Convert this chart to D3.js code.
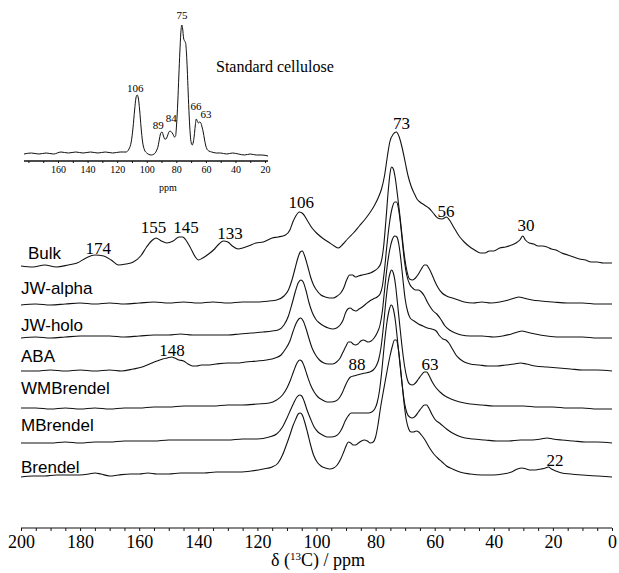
<!DOCTYPE html>
<html>
<head>
<meta charset="utf-8">
<script src="https://cdn.jsdelivr.net/npm/d3@7"></script>
<style>
  html, body { margin: 0; padding: 0; background: #fff; }
  svg { display: block; }
</style>
</head>
<body>
<svg id="chart" width="619" height="573"></svg>
<script>
// ---------------- DATA ----------------
const sampleNames = ["Bulk", "JW-alpha", "JW-holo", "ABA", "WMBrendel", "MBrendel", "Brendel"];
// vertical stacking offsets (a.u.)
const stackOffsets = [211, 172, 139, 106, 69, 34, 0];
// where the sample name sits above its trace (a.u.)
const nameHeights = [13, 17, 13, 15, 20, 18, 10];

// spectra: [ppm, intensity a.u.]
const bulk = [[200,0],[196,-1],[192,1],[188,-1],[184,1],[181,3],[178,8],[175,11],[172,10],[169.5,6],[167,1],[164.5,2],[162,4],[159.5,10],[157.5,19],[155.5,26],[154.3,28],[152.5,25],[150.7,23],[148.5,25],[146.5,29],[145.3,29],[144,25],[142.8,19],[141,9],[140,6],[138.5,8],[136.5,12],[134.5,17],[133,22],[131.5,25],[130,24],[128.5,20],[126.5,17],[125,18],[123,20],[120.5,23],[118,24],[115,28],[113,29],[110.5,31],[109,36],[108,44],[107,50],[105.8,54],[104.5,52],[103,45],[101.5,38],[100,33],[98,28],[96,24],[94,20],[92.6,18],[91,22],[89.5,27],[87.5,33],[85.5,40],[83.5,47],[82,53],[80.5,60],[79,69],[78,77],[77,90],[76,110],[75.2,124],[74,132],[73,134],[72,129],[71,118],[70,104],[69,90],[68,80],[67,73],[66,67],[65,64],[63.5,61],[62,58],[60.5,53],[59,48],[57.5,47],[56,49],[55,46],[54,41],[53,36],[51.5,29],[50,24],[48.5,20],[46.5,16],[44.5,13],[43,13],[41.5,15],[40,15],[38,18],[36,19],[34,21],[32.5,23],[31.2,26],[30.2,30],[29.3,26],[28,23],[26.5,22],[25,20],[23.5,20],[22,19],[20.5,17],[19,16],[17,13],[15,11],[13,9],[11,7],[9,6],[7,4],[5,4],[3,3],[1.5,3],[0,3]];
const jwAlpha = [[200,0],[195,1],[190,0],[185,1],[180,2],[175,1],[170,2],[165,1],[160,2],[155,3],[150,2],[145,3],[140,2],[135,3],[130,2],[125,3],[120,3],[116,4],[113.5,5],[111,9],[109.5,15],[108.3,25],[107.3,36],[106.3,47],[105.5,53],[104.8,54],[104,49],[103,39],[102,28],[101,20],[100,15],[98.5,10],[97,8],[95.5,7],[94.3,7],[93,9],[91.8,12],[90.8,17],[89.8,25],[88.8,30],[87.8,30],[86.8,28],[85.8,29],[84.5,30],[83,31],[81.8,32],[80.5,34],[79.2,37],[78.2,42],[77.3,58],[76.5,85],[75.7,115],[75.1,132],[74.6,138],[74,136],[73.4,128],[72.6,110],[71.8,90],[71,68],[70.2,48],[69.4,34],[68.5,26],[67.5,25],[66.5,27],[65.5,31],[64.5,36],[63.5,40],[62.8,40],[62,37],[61,31],[60,24],[59,18],[57.5,12],[56,9],[54,7],[52,5],[50,3],[47,2],[44,3],[41,2],[38,3],[35,5],[33,7],[31.5,8],[30,7],[27,5],[24,4],[20,3],[15,2],[10,2],[5,1],[0,1]];
const jwHolo = [[200,0],[195,1],[190,0],[185,1],[180,2],[175,2],[170,2],[165,1],[160,2],[155,3],[150,3],[146,4],[142,3],[138,3],[134,3],[130,3],[126,4],[122,5],[118,6],[115,7],[113,8],[111,13],[109.5,22],[108.3,34],[107.2,46],[106.2,55],[105.3,58],[104.5,56],[103.6,48],[102.6,36],[101.5,26],[100.3,19],[99,15],[97.5,12],[96,10],[94.5,9],[93.2,10],[92,13],[91,18],[90.2,25],[89.4,29],[88.6,30],[87.6,28],[86.6,27],[85.6,29],[84.5,31],[83.3,34],[82,37],[80.8,39],[79.5,41],[78.5,44],[77.7,52],[77,68],[76.2,92],[75.3,115],[74.4,130],[73.5,136],[72.9,136],[72.3,130],[71.6,115],[70.9,95],[70.2,76],[69.4,62],[68.5,54],[67.5,50],[66.5,48],[65.5,48],[64.5,46],[63.5,42],[62.5,36],[61.5,31],[60.5,27],[59.3,24],[58,19],[56.5,12],[55,8],[53,5],[51,3],[48,2],[44,2],[40,1],[37,2],[34,4],[32,6],[30.5,7],[29,6],[26,4],[22,2],[18,1],[14,1],[10,1],[5,0],[0,0]];
const aba = [[200,0],[195,0],[190,1],[185,0],[180,1],[175,0],[170,1],[166,0],[162,2],[159,4],[156.5,7],[154,10],[152,12],[150.5,13],[149,14],[148,13],[146.5,11],[145,10],[143.5,7],[142,5],[140.5,5],[139,6],[137,6],[134,7],[130,8],[127,8],[124,9],[120,10],[117,11],[114,13],[112,16],[110.5,22],[109,30],[108,39],[107,47],[106,52],[105.3,53],[104.5,50],[103.5,42],[102.5,32],[101.5,23],[100.3,16],[99,11],[97.5,8],[96,7],[94.5,7],[93.2,9],[92,13],[91,19],[90,25],[89.2,29],[88.4,29],[87.6,27],[86.8,26],[86,27],[85,30],[84.2,31],[83.3,30],[82.5,29],[81.5,30],[80.5,33],[79.5,38],[78.5,46],[77.7,60],[77,80],[76.2,102],[75.3,120],[74.4,131],[73.5,135],[72.8,134],[72.1,126],[71.4,110],[70.7,90],[70,72],[69.2,60],[68.3,53],[67,50],[65.5,47],[64,45],[62.5,43],[61,42],[59.5,40],[58.3,35],[57.2,32],[56.2,31],[55.2,28],[54,22],[52.8,16],[51.5,12],[50,9],[48,7],[45,6],[42,5],[39,5],[36,6],[33,7],[31,8],[29,7],[26,5],[22,4],[18,3],[14,2],[10,1],[5,1],[0,0]];
const wmBrendel = [[200,0],[195,0],[190,-1],[185,0],[180,-1],[175,0],[170,-1],[165,0],[160,0],[155,1],[150,1],[145,2],[140,2],[135,2],[130,3],[125,3],[120,4],[116,5],[113.5,8],[111.5,13],[110,20],[108.8,28],[107.7,37],[106.6,45],[105.7,48],[105,47],[104.2,42],[103.2,33],[102,23],[100.8,16],[99.5,11],[98,8],[96.5,6],[95,6],[93.5,7],[92.3,10],[91.3,15],[90.3,22],[89.3,28],[88.5,31],[87.5,32],[86.3,33],[85,34],[83.5,35],[82,36],[80.8,38],[79.8,42],[79,48],[78.2,60],[77.4,80],[76.6,105],[75.8,125],[75.1,135],[74.6,138],[74,135],[73.3,124],[72.6,105],[71.8,82],[71,60],[70.2,42],[69.4,30],[68.5,24],[67.5,23],[66.5,25],[65.5,29],[64.5,33],[63.5,36],[62.7,36],[62,33],[61,27],[60,22],[58.2,16],[56.5,12],[54.5,9],[51.5,6],[48,4],[44,3],[40,2],[35,2],[30,2],[25,1],[20,1],[15,0],[10,0],[5,-1],[0,-1]];
const mBrendel = [[200,0],[195,0],[190,0],[185,1],[180,0],[175,1],[170,1],[165,2],[160,2],[155,2],[150,3],[145,3],[140,3],[135,3],[130,3],[125,4],[120,4],[116,6],[113.5,9],[111.5,16],[110,25],[108.8,33],[107.7,40],[106.6,46],[105.7,48],[105,47],[104.2,42],[103.2,33],[102,24],[100.8,16],[99.5,11],[98,8],[96.5,6],[95,6],[93.5,7],[92.3,10],[91.3,15],[90.3,22],[89.3,27],[88.3,30],[87,30],[85.5,30],[84,30],[82.5,30],[81.3,31],[80.3,34],[79.5,40],[78.7,52],[77.9,72],[77.1,97],[76.2,120],[75.4,133],[74.7,138],[74,134],[73.3,122],[72.6,103],[71.8,80],[71,58],[70.2,40],[69.4,30],[68.5,26],[67.5,25],[66.5,27],[65.5,31],[64.5,35],[63.5,38],[62.7,38],[62,35],[61,29],[60,24],[58,19],[56,14],[54,10],[51,6],[47,4],[43,3],[39,2],[35,2],[31,3],[27,3],[24,4],[22,5],[20,4],[17,3],[13,2],[9,1],[5,1],[0,0]];
const brendel = [[200,0],[196,1],[192,1],[188,2],[184,2],[180,2],[177,3],[175,4],[173,3],[170,1],[167,2],[163,3],[160,3],[157,4],[154,3],[150,3],[146,4],[142,4],[138,4],[134,5],[130,5],[126,5],[122,6],[118,8],[115,10],[113,14],[111.5,22],[110.2,32],[109,42],[108,51],[107,58],[106.2,63],[105.5,64],[104.8,62],[104,55],[103,44],[102,32],[101,22],[99.8,15],[98.5,11],[97,9],[95.5,8],[94.2,9],[93,12],[91.8,18],[90.8,25],[90,31],[89.2,35],[88.4,34],[87.6,32],[86.8,32],[85.8,34],[84.8,36],[83.8,37],[82.8,36],[81.8,34],[80.8,35],[80,40],[79.2,52],[78.4,68],[77.6,82],[76.8,95],[76,108],[75.2,120],[74.4,130],[73.6,137],[73,137],[72.4,130],[71.7,113],[71,92],[70.3,72],[69.6,57],[68.8,48],[68,45],[67.2,45],[66.3,46],[65.4,45],[64.5,42],[63.5,38],[62.5,33],[61.5,28],[60.3,23],[59,19],[57.5,15],[56,11],[54,8],[51.5,5],[48,3],[44,2],[40,2],[37,3],[34,5],[32,8],[30.5,9],[29,8],[27.5,7],[26,7],[24,8],[22.5,9],[21.5,10],[20.5,8],[19,6],[17,4],[14,3],[10,2],[5,1],[0,0]];
const spectra = [bulk, jwAlpha, jwHolo, aba, wmBrendel, mBrendel, brendel];

// peak annotations: [text, ppm, height a.u. (absolute, stacked)]
const peakLabels = [["174",173.9,229],["155",155.2,250],["145",144.2,250],["133",129.3,244],["106",105.2,275],["73",71.2,354],["56",56.2,266],["30",29.1,252],["148",148.9,127],["88",86.3,113],["63",61.6,113],["22",19.3,17]];

// main axis
const mainTickValues = d3.range(0, 201, 5);
const mainTickLabels = [200, 180, 160, 140, 120, 100, 80, 60, 40, 20, 0];

// inset: standard cellulose
const cellulose = [[183,0],[178,1],[173,0],[168,1],[163,0],[158,2],[153,1],[148,2],[143,1],[138,2],[133,1],[128,2],[123,1],[118,2],[114,2],[112,5],[110.5,12],[109.3,26],[108.2,44],[107.3,56],[106.5,59],[105.7,56],[104.8,44],[103.8,26],[102.8,12],[101.5,4],[100,1],[97,-1],[95,0],[93.5,3],[92.3,8],[91.3,16],[90.5,21],[89.6,22],[88.7,18],[87.8,15],[87,15],[86,18],[85,22],[84.2,23],[83.3,22],[82.3,20],[81.3,17],[80.5,18],[79.8,30],[79,52],[78.3,78],[77.6,102],[77,120],[76.3,129],[75.7,125],[75.1,116],[74.4,113],[73.7,111],[73.1,100],[72.6,85],[72,62],[71.3,38],[70.6,20],[69.9,11],[69.2,9],[68.5,12],[67.9,18],[67.2,28],[66.5,35],[65.8,33],[65,31],[64.2,32],[63.4,31],[62.6,27],[61.8,22],[61,15],[60.2,9],[59.3,5],[58,3],[56,2],[53,1],[50,1],[46,0],[42,1],[38,0],[34,-1],[30,0],[26,-1],[22,-1],[18,-2]];
const insetPeakLabels = [["106",107.7,66],["89",92.3,29],["84",83.4,36],["75",76.2,139],["66",66.7,48],["63",59.9,40]];
const insetTickValues = d3.range(20, 181, 10);
const insetTickLabels = [160, 140, 120, 100, 80, 60, 40, 20];

// ---------------- DRAW ----------------
const svg = d3.select("#chart");
svg.append("rect").attr("width", 619).attr("height", 573).attr("fill", "#fff");

const serif = "'Liberation Serif','Times New Roman',Times,serif";
const sans = "'Liberation Sans',Arial,Helvetica,sans-serif";

const x = d3.scaleLinear().domain([200, 0]).range([21, 612]);
const y = d3.scaleLinear().domain([0, 400]).range([477, 77]);

spectra.forEach((s, i) => {
  const off = stackOffsets[i];
  const line = d3.line()
    .x(d => x(d[0]))
    .y(d => y(d[1] + off))
    .curve(d3.curveMonotoneX);
  svg.append("path")
    .datum(s)
    .attr("d", line)
    .attr("fill", "none")
    .attr("stroke", "#111")
    .attr("stroke-width", 1.1)
    .attr("stroke-linejoin", "round");
});

// sample names
svg.selectAll("text.name")
  .data(sampleNames)
  .enter().append("text")
  .attr("class", "name")
  .attr("x", (d, i) => i === 0 ? 28 : 21)
  .attr("y", (d, i) => y(stackOffsets[i] + nameHeights[i]))
  .attr("dy", "0.35em")
  .attr("font-family", sans)
  .attr("font-size", 17)
  .attr("fill", "#000")
  .text(d => d);

// peak labels
svg.selectAll("text.peak")
  .data(peakLabels)
  .enter().append("text")
  .attr("class", "peak")
  .attr("x", d => x(d[1]))
  .attr("y", d => y(d[2]))
  .attr("dy", "0.35em")
  .attr("text-anchor", "middle")
  .attr("font-family", serif)
  .attr("font-size", 17)
  .attr("fill", "#000")
  .text(d => d[0]);

// main axis
const axisY = 528;
const axis = d3.axisBottom(x)
  .tickValues(mainTickValues)
  .tickSize(3)
  .tickPadding(4)
  .tickFormat(d => mainTickLabels.includes(d) ? d : "");
const gAxis = svg.append("g").attr("transform", `translate(0,${axisY})`).call(axis);
gAxis.select(".domain").attr("stroke", "#111").attr("stroke-width", 1.2).attr("d", `M${x(200)},0H${x(0)}`);
gAxis.selectAll(".tick line").attr("stroke", "#111").attr("stroke-width", 1);
gAxis.selectAll(".tick text").attr("font-family", serif).attr("font-size", 18).attr("fill", "#000");

const title = svg.append("text")
  .attr("x", 318).attr("y", 566)
  .attr("text-anchor", "middle")
  .attr("font-family", serif)
  .attr("font-size", 18)
  .attr("fill", "#000");
title.append("tspan").text("δ (");
title.append("tspan").attr("font-size", 11).attr("dy", -6).text("13");
title.append("tspan").attr("dy", 6).text("C) / ppm");

// ---------------- INSET ----------------
const xi = d3.scaleLinear().domain([183, 18]).range([24, 268]);
const yi = d3.scaleLinear().domain([0, 140]).range([154, 14]);

svg.append("path")
  .datum(cellulose)
  .attr("d", d3.line().x(d => xi(d[0])).y(d => yi(d[1])).curve(d3.curveMonotoneX))
  .attr("fill", "none")
  .attr("stroke", "#111")
  .attr("stroke-width", 1);

const insetAxis = d3.axisBottom(xi)
  .tickValues(insetTickValues)
  .tickSize(2)
  .tickPadding(3)
  .tickFormat(d => insetTickLabels.includes(d) ? d : "");
const gi = svg.append("g").attr("transform", "translate(0,161)").call(insetAxis);
gi.select(".domain").attr("stroke", "#111").attr("stroke-width", 1.3).attr("d", `M${xi(183)},0H${xi(18)}`);
gi.selectAll(".tick line").attr("stroke", "#111");
gi.selectAll(".tick text").attr("font-family", serif).attr("font-size", 10).attr("fill", "#000");

svg.append("text").attr("x", 168).attr("y", 191)
  .attr("text-anchor", "middle").attr("font-family", serif).attr("font-size", 10).text("ppm");

svg.selectAll("text.ipeak")
  .data(insetPeakLabels)
  .enter().append("text")
  .attr("class", "ipeak")
  .attr("x", d => xi(d[1]))
  .attr("y", d => yi(d[2]))
  .attr("dy", "0.35em")
  .attr("text-anchor", "middle")
  .attr("font-family", serif)
  .attr("font-size", 11)
  .attr("fill", "#000")
  .text(d => d[0]);

svg.append("text").attr("x", 216).attr("y", 72)
  .attr("font-family", serif).attr("font-size", 16).attr("fill", "#000")
  .text("Standard cellulose");
</script>
</body>
</html>
